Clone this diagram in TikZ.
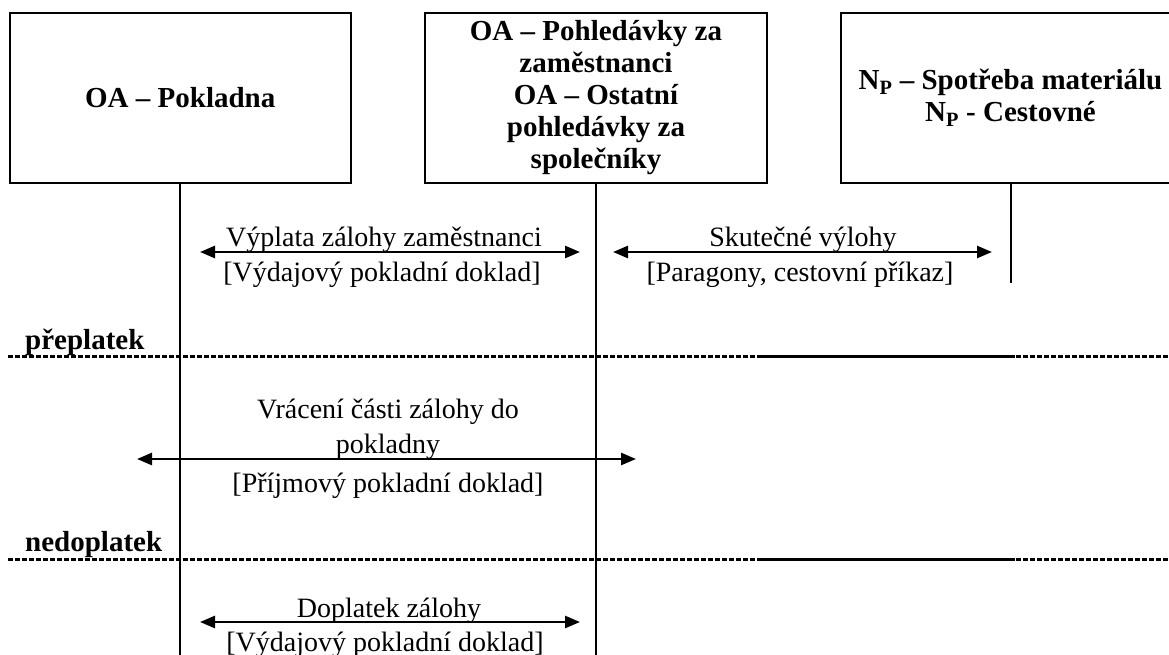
\documentclass[tikz,border=0pt]{standalone}
\usepackage{fontspec}
\setmainfont{Liberation Serif}
\usetikzlibrary{arrows.meta}
\begin{document}
\begin{tikzpicture}[x=1pt,y=-1pt,
  account/.style={draw, line width=2pt, minimum height=170pt, inner sep=0pt,
    align=center, font=\fontsize{29}{32}\selectfont\bfseries},
  lifeline/.style={line width=2pt},
  msg/.style={line width=2.6pt,
    {Triangle[length=15pt,width=12pt]}-{Triangle[length=15pt,width=12pt]}},
  msgtext/.style={font=\fontsize{28}{32}\selectfont, inner sep=0pt, anchor=base},
  divider/.style={line width=3pt, dash pattern=on 4.5pt off 2.5pt},
  solidpart/.style={line width=3pt},
  sidelabel/.style={font=\fontsize{29}{32}\selectfont\bfseries, inner sep=0pt,
    anchor=base west}]
\useasboundingbox (0,0) rectangle (1169,655);
\begin{scope}
\clip (0,0) rectangle (1169,655);

% account boxes
\node[account, minimum width=341.5pt] (pokl) at (180.25,98) {OA – Pokladna};
\node[account, minimum width=342pt] (pohl) at (596,98)
  {OA – Pohledávky za\\zaměstnanci\\OA – Ostatní\\pohledávky za\\společníky};
\node[account, minimum width=339pt] (np) at (1010.5,98)
  {N\textsubscript{P} – Spotřeba materiálu\\N\textsubscript{P} - Cestovné};

% lifelines
\coordinate (poklEnd) at (180.25,660);
\coordinate (pohlEnd) at (596,660);
\coordinate (npEnd) at (1010.5,283);
\draw[lifeline] (pokl.south) -- (poklEnd);
\draw[lifeline] (pohl.south) -- (pohlEnd);
\draw[lifeline] (np.south) -- (npEnd);

% section dividers
\coordinate (d1l) at (8,356);    \coordinate (d1r) at (1169,356);
\coordinate (d1a) at (762,356);  \coordinate (d1b) at (1015,356);
\coordinate (d2l) at (8,559);    \coordinate (d2r) at (1169,559);
\coordinate (d2a) at (762,559);  \coordinate (d2b) at (1015,559);
\draw[divider] (d1l) -- (d1r);
\draw[solidpart] (d1a) -- (d1b);
\draw[divider] (d2l) -- (d2r);
\draw[solidpart] (d2a) -- (d2b);
\node[sidelabel] (over) at (25,349) {přeplatek};
\node[sidelabel] (under) at (25,551) {nedoplatek};

% advance payment
\coordinate (m1l) at (200,252); \coordinate (m1r) at (580,252);
\draw[msg] (m1l) -- (m1r);
\node[msgtext] (m1a) at (384,246) {Výplata zálohy zaměstnanci};
\node[msgtext] (m1b) at (382,281) {[Výdajový pokladní doklad]};

% actual expenses
\coordinate (m2l) at (613,252); \coordinate (m2r) at (992,252);
\draw[msg] (m2l) -- (m2r);
\node[msgtext] (m2a) at (803,246) {Skutečné výlohy};
\node[msgtext] (m2b) at (800,281) {[Paragony, cestovní příkaz]};

% refund of the overpayment
\coordinate (m3l) at (137,459); \coordinate (m3r) at (636,459);
\draw[msg] (m3l) -- (m3r);
\node[msgtext] (m3a) at (388,418) {Vrácení části zálohy do};
\node[msgtext] (m3b) at (388,453) {pokladny};
\node[msgtext] (m3c) at (388,492) {[Příjmový pokladní doklad]};

% additional payment
\coordinate (m4l) at (200,622); \coordinate (m4r) at (580,622);
\draw[msg] (m4l) -- (m4r);
\node[msgtext] (m4a) at (389,617) {Doplatek zálohy};
\node[msgtext] (m4b) at (385,651) {[Výdajový pokladní doklad]};
\end{scope}
\end{tikzpicture}
\end{document}
